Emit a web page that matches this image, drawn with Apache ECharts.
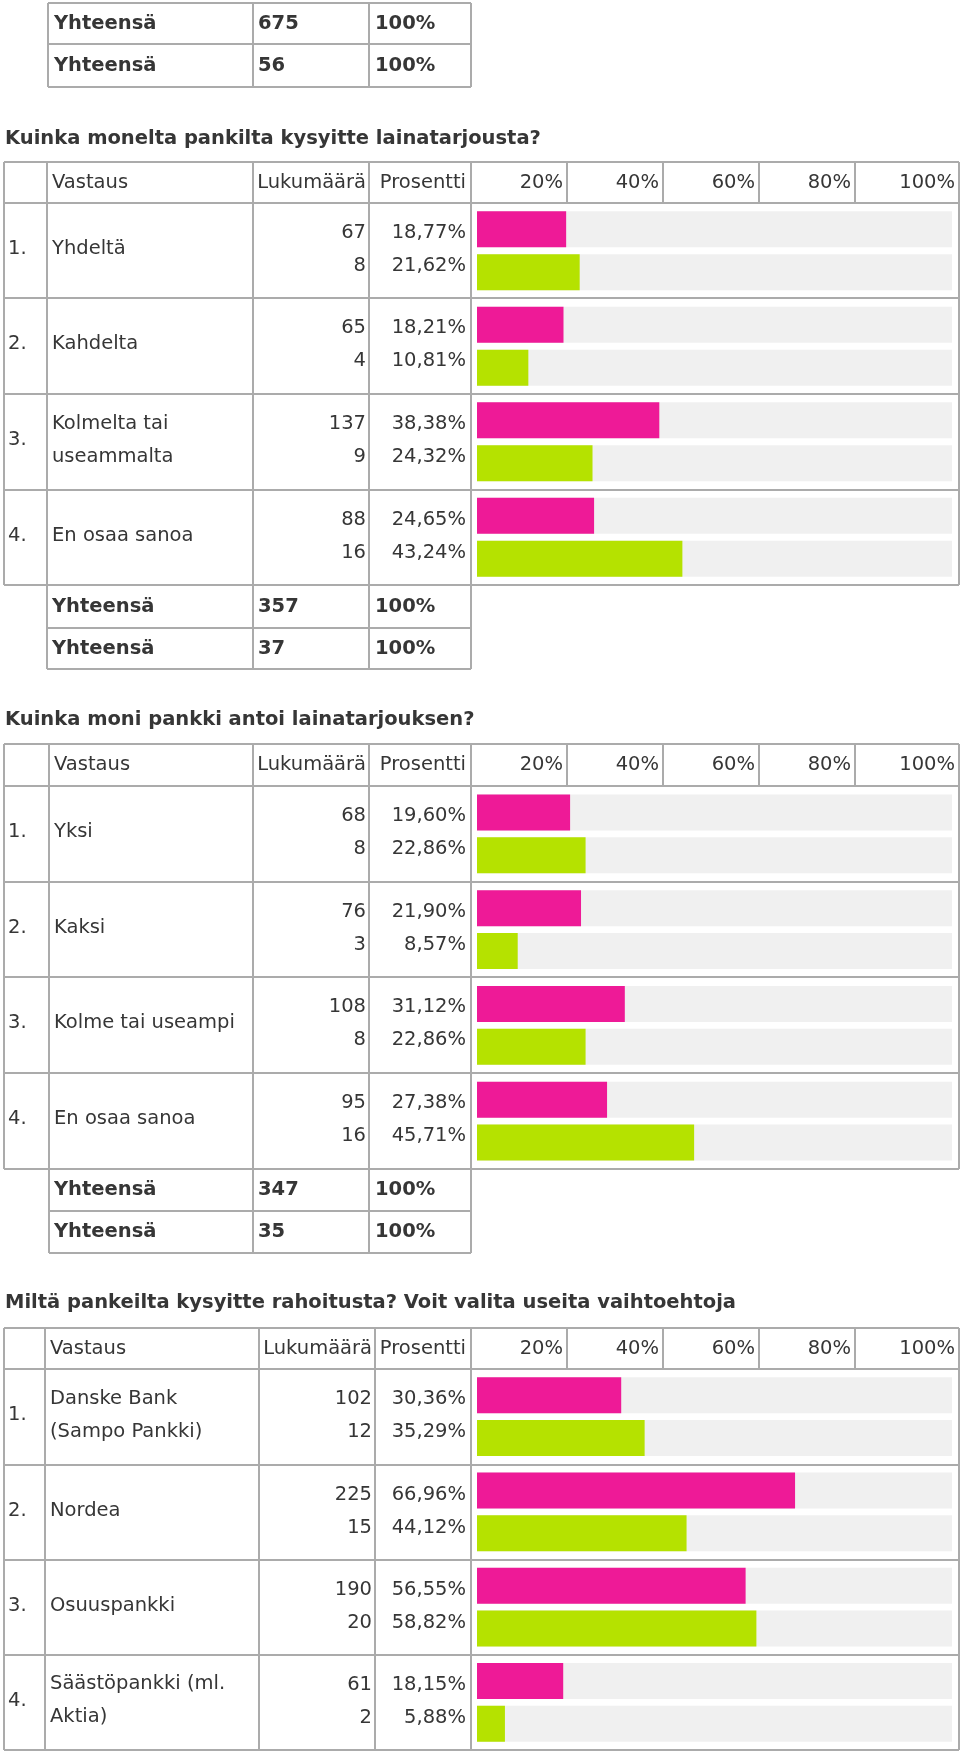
<!DOCTYPE html>
<html>
<head>
<meta charset="utf-8">
<script src="https://cdn.jsdelivr.net/npm/echarts@6/dist/echarts.min.js"></script>
<style>
html,body{margin:0;padding:0;background:#fff;}
#chart{width:960px;height:1753px;}
</style>
</head>
<body>
<div id="chart"></div>
<script>
// ---------- data ----------
const topTotals = [675, 56];

const title1 = 'Kuinka monelta pankilta kysyitte lainatarjousta?';
const s1Labels = ['Yhdeltä', 'Kahdelta', 'Kolmelta tai\nuseammalta', 'En osaa sanoa'];
const s1CountA = [67, 65, 137, 88];
const s1PctA = [18.77, 18.21, 38.38, 24.65];
const s1CountB = [8, 4, 9, 16];
const s1PctB = [21.62, 10.81, 24.32, 43.24];
const s1Totals = [357, 37];

const title2 = 'Kuinka moni pankki antoi lainatarjouksen?';
const s2Labels = ['Yksi', 'Kaksi', 'Kolme tai useampi', 'En osaa sanoa'];
const s2CountA = [68, 76, 108, 95];
const s2PctA = [19.60, 21.90, 31.12, 27.38];
const s2CountB = [8, 3, 8, 16];
const s2PctB = [22.86, 8.57, 22.86, 45.71];
const s2Totals = [347, 35];

const title3 = 'Miltä pankeilta kysyitte rahoitusta? Voit valita useita vaihtoehtoja';
const s3Labels = ['Danske Bank\n(Sampo Pankki)', 'Nordea', 'Osuuspankki', 'Säästöpankki (ml.\nAktia)'];
const s3CountA = [102, 225, 190, 61];
const s3PctA = [30.36, 66.96, 56.55, 18.15];
const s3CountB = [12, 15, 20, 2];
const s3PctB = [35.29, 44.12, 58.82, 5.88];

const headerLabels = ['Vastaus', 'Lukumäärä', 'Prosentti'];
const scaleTicks = ['20%', '40%', '60%', '80%', '100%'];
const totalLabel = 'Yhteensä';

// ---------- layout ----------
const FONT = '"DejaVu Sans", Verdana, sans-serif';
const FS = 19.5;
const FSB = 19.5;
const TXT = '#363636';
const BORDER = '#ababab';
const PINK = '#ee1a97';
const GREEN = '#b5e200';
const BG = '#f0f0f0';
const RIGHT = 959;
const chartCols = [567, 663, 759, 855, RIGHT];
const BAR_LEFT = 477, BAR_W = 475;

const L1 = {titleY: 139, top: 162, header: 203, rows: [298, 394, 490, 585], totals: [628, 669], cols: [4, 47, 253, 369, 471]};
const L2 = {titleY: 720, top: 744, header: 786, rows: [882, 977, 1073, 1169], totals: [1211, 1253], cols: [4, 49, 253, 369, 471]};
const L3 = {titleY: 1303, top: 1328, header: 1369, rows: [1465, 1560, 1655, 1750], totals: [], cols: [4, 45, 259, 375, 471]};

const fmtPct = v => v.toFixed(2).replace('.', ',') + '%';

const graphics = [];
function line(x1, y1, x2, y2) {
  graphics.push({type: 'line', silent: true, z: 10,
    shape: {x1, y1, x2, y2}, style: {stroke: BORDER, lineWidth: 2}});
}
function text(x, y, t, align, bold, lh) {
  graphics.push({type: 'text', silent: true, z: 11, x, y,
    style: {text: t, fill: TXT, font: (bold ? 'bold ' + FSB : FS) + 'px ' + FONT,
      align: align || 'left', verticalAlign: 'middle', lineHeight: lh || 32}});
}

// top totals table
(function () {
  const cols = [48, 253, 369, 471], rows = [3, 44, 87];
  rows.forEach(y => line(cols[0], y, cols[3], y));
  cols.forEach(x => line(x, rows[0], x, rows[2]));
  topTotals.forEach((v, i) => {
    const cy = (rows[i] + rows[i + 1]) / 2;
    text(cols[0] + 6, cy, totalLabel, 'left', true);
    text(cols[1] + 5, cy, String(v), 'left', true);
    text(cols[2] + 6, cy, '100%', 'left', true);
  });
})();

function section(L, title, labels, cA, pA, cB, pB, totals) {
  text(5, L.titleY, title, 'left', true);
  const c = L.cols;
  const last = L.rows[L.rows.length - 1];
  [L.top, L.header].concat(L.rows).forEach(y => line(c[0], y, RIGHT, y));
  line(c[0], L.top, c[0], last);
  line(RIGHT, L.top, RIGHT, last);
  const lastT = L.totals.length ? L.totals[L.totals.length - 1] : last;
  for (let i = 1; i <= 4; i++) line(c[i], L.top, c[i], lastT);
  L.totals.forEach(y => line(c[1], y, c[4], y));
  chartCols.slice(0, 4).forEach(x => line(x, L.top, x, L.header));
  // header
  const hy = (L.top + L.header) / 2;
  text(c[1] + 5, hy, headerLabels[0], 'left');
  text(c[3] - 3, hy, headerLabels[1], 'right');
  text(c[4] - 5, hy, headerLabels[2], 'right');
  scaleTicks.forEach((t, i) => text(chartCols[i] - 4, hy, t, 'right'));
  // rows
  const bounds = [L.header].concat(L.rows);
  labels.forEach((lab, i) => {
    const cy = (bounds[i] + bounds[i + 1]) / 2;
    text(8, cy - 2, (i + 1) + '.', 'left');
    text(c[1] + 5, cy - 2, lab, 'left', false, 33);
    text(c[3] - 3, cy - 18, String(cA[i]), 'right');
    text(c[3] - 3, cy + 15, String(cB[i]), 'right');
    text(c[4] - 5, cy - 18, fmtPct(pA[i]), 'right');
    text(c[4] - 5, cy + 15, fmtPct(pB[i]), 'right');
  });
  // totals
  const tb = [last].concat(L.totals);
  totals.forEach((v, i) => {
    const cy = (tb[i] + tb[i + 1]) / 2;
    text(c[1] + 5, cy, totalLabel, 'left', true);
    text(c[2] + 5, cy, String(v), 'left', true);
    text(c[3] + 6, cy, '100%', 'left', true);
  });
}
section(L1, title1, s1Labels, s1CountA, s1PctA, s1CountB, s1PctB, s1Totals);
section(L2, title2, s2Labels, s2CountA, s2PctA, s2CountB, s2PctB, s2Totals);
section(L3, title3, s3Labels, s3CountA, s3PctA, s3CountB, s3PctB, []);

// ---------- bars ----------
const Ls = [L1, L2, L3];
const pctA = [s1PctA, s2PctA, s3PctA];
const pctB = [s1PctB, s2PctB, s3PctB];
const grids = [], xAxes = [], yAxes = [], series = [];
Ls.forEach((L, g) => {
  const last = L.rows[L.rows.length - 1];
  grids.push({left: BAR_LEFT, width: BAR_W, top: L.header, height: last - L.header, containLabel: false});
  xAxes.push({type: 'value', gridIndex: g, min: 0, max: 100, show: false});
  yAxes.push({type: 'category', gridIndex: g, data: ['1', '2', '3', '4'], inverse: true, show: false});
  [[pctA[g], PINK], [pctB[g], GREEN]].forEach(([d, col]) => {
    series.push({type: 'bar', xAxisIndex: g, yAxisIndex: g, data: d,
      barWidth: 36, barGap: '19%', itemStyle: {color: col},
      showBackground: true, backgroundStyle: {color: BG}, silent: true});
  });
});

const chart = echarts.init(document.getElementById('chart'), null, {renderer: 'canvas'});
chart.setOption({
  animation: false,
  backgroundColor: '#fff',
  grid: grids, xAxis: xAxes, yAxis: yAxes, series: series,
  graphic: graphics
});
</script>
</body>
</html>
